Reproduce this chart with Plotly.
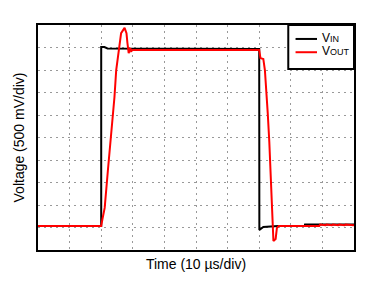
import plotly.graph_objects as go

# Time in microseconds (10 us/div), voltage in divisions (500 mV/div)
t_in = [0, 20, 20, 21, 22, 24, 25.5, 70, 70.05, 71.3, 76, 84.4, 84.5, 100]
v_in = [1.07, 1.07, 9.02, 9.02, 8.96, 8.96, 8.93, 8.93, 0.89, 1.02, 1.07, 1.07, 1.13, 1.13]

t_out = [0, 20, 20.4, 21.1, 22.1, 22.96, 23.6, 24.2, 24.75, 25.5, 26.3, 27.4, 28.0, 28.3,
         28.7, 29.2, 29.5, 30, 70, 70.4, 71.3, 71.8, 72.5, 72.7, 73.2, 73.7, 73.9, 74.3,
         74.5, 75.2, 75.6, 76.2, 89, 89.3, 91, 91.3, 93, 93.3, 95, 95.3, 97, 97.3, 100]
v_out = [1.07, 1.07, 1.38, 1.87, 3.51, 4.76, 5.91, 6.8, 8.0, 8.89, 9.64, 9.87, 9.64, 9.2,
         8.75, 8.98, 8.84, 8.89, 8.89, 8.53, 8.49, 8.0, 6.8, 6.09, 4.8, 3.07, 1.87, 0.62,
         0.4, 0.49, 0.98, 1.07, 1.07, 1.13, 1.1, 1.13, 1.1, 1.13, 1.1, 1.13, 1.1, 1.13, 1.1]

legend_names = ['V<span style="font-size:9px">IN</span>',
                'V<span style="font-size:9px">OUT</span>']
legend_colors = ["black", "#ff0000"]

fig = go.Figure()
fig.add_trace(go.Scatter(x=t_in, y=v_in, mode="lines", name="VIN",
                         line=dict(color=legend_colors[0], width=2)))
fig.add_trace(go.Scatter(x=t_out, y=v_out, mode="lines", name="VOUT",
                         line=dict(color=legend_colors[1], width=2)))

axis_common = dict(showticklabels=False, ticks="", showline=True, mirror=True,
                   linecolor="black", linewidth=2, showgrid=True, gridcolor="#999999",
                   gridwidth=1, griddash="2px,4px", zeroline=False)

# Legend box (decoration, paper coordinates)
fig.add_shape(type="rect", xref="paper", yref="paper", x0=0.792, x1=1.0, y0=0.804, y1=1.0,
              line=dict(color="black", width=2), fillcolor="white", layer="above")
for i, (name, col) in enumerate(zip(legend_names, legend_colors)):
    yy = 0.938 - i * 0.059
    fig.add_shape(type="line", xref="paper", yref="paper", x0=0.815, x1=0.883, y0=yy, y1=yy,
                  line=dict(color=col, width=2), layer="above")
    fig.add_annotation(xref="paper", yref="paper", x=0.897, y=yy + 0.004, xanchor="left",
                       yanchor="middle", text=name, showarrow=False, borderpad=0,
                       font=dict(size=12, color="black"))

fig.update_layout(
    width=367, height=283,
    margin=dict(l=38, r=11, t=25, b=33),
    paper_bgcolor="white", plot_bgcolor="white",
    font=dict(family="Liberation Sans, Arial, sans-serif", size=12, color="black"),
    xaxis=dict(range=[0, 100], dtick=10, title=dict(text="Time (10 µs/div)", standoff=8),
               **axis_common),
    yaxis=dict(range=[0, 10], dtick=1, title=dict(text="Voltage (500 mV/div)", standoff=8),
               **axis_common),
    showlegend=False,
)

fig.write_html("out.html")
